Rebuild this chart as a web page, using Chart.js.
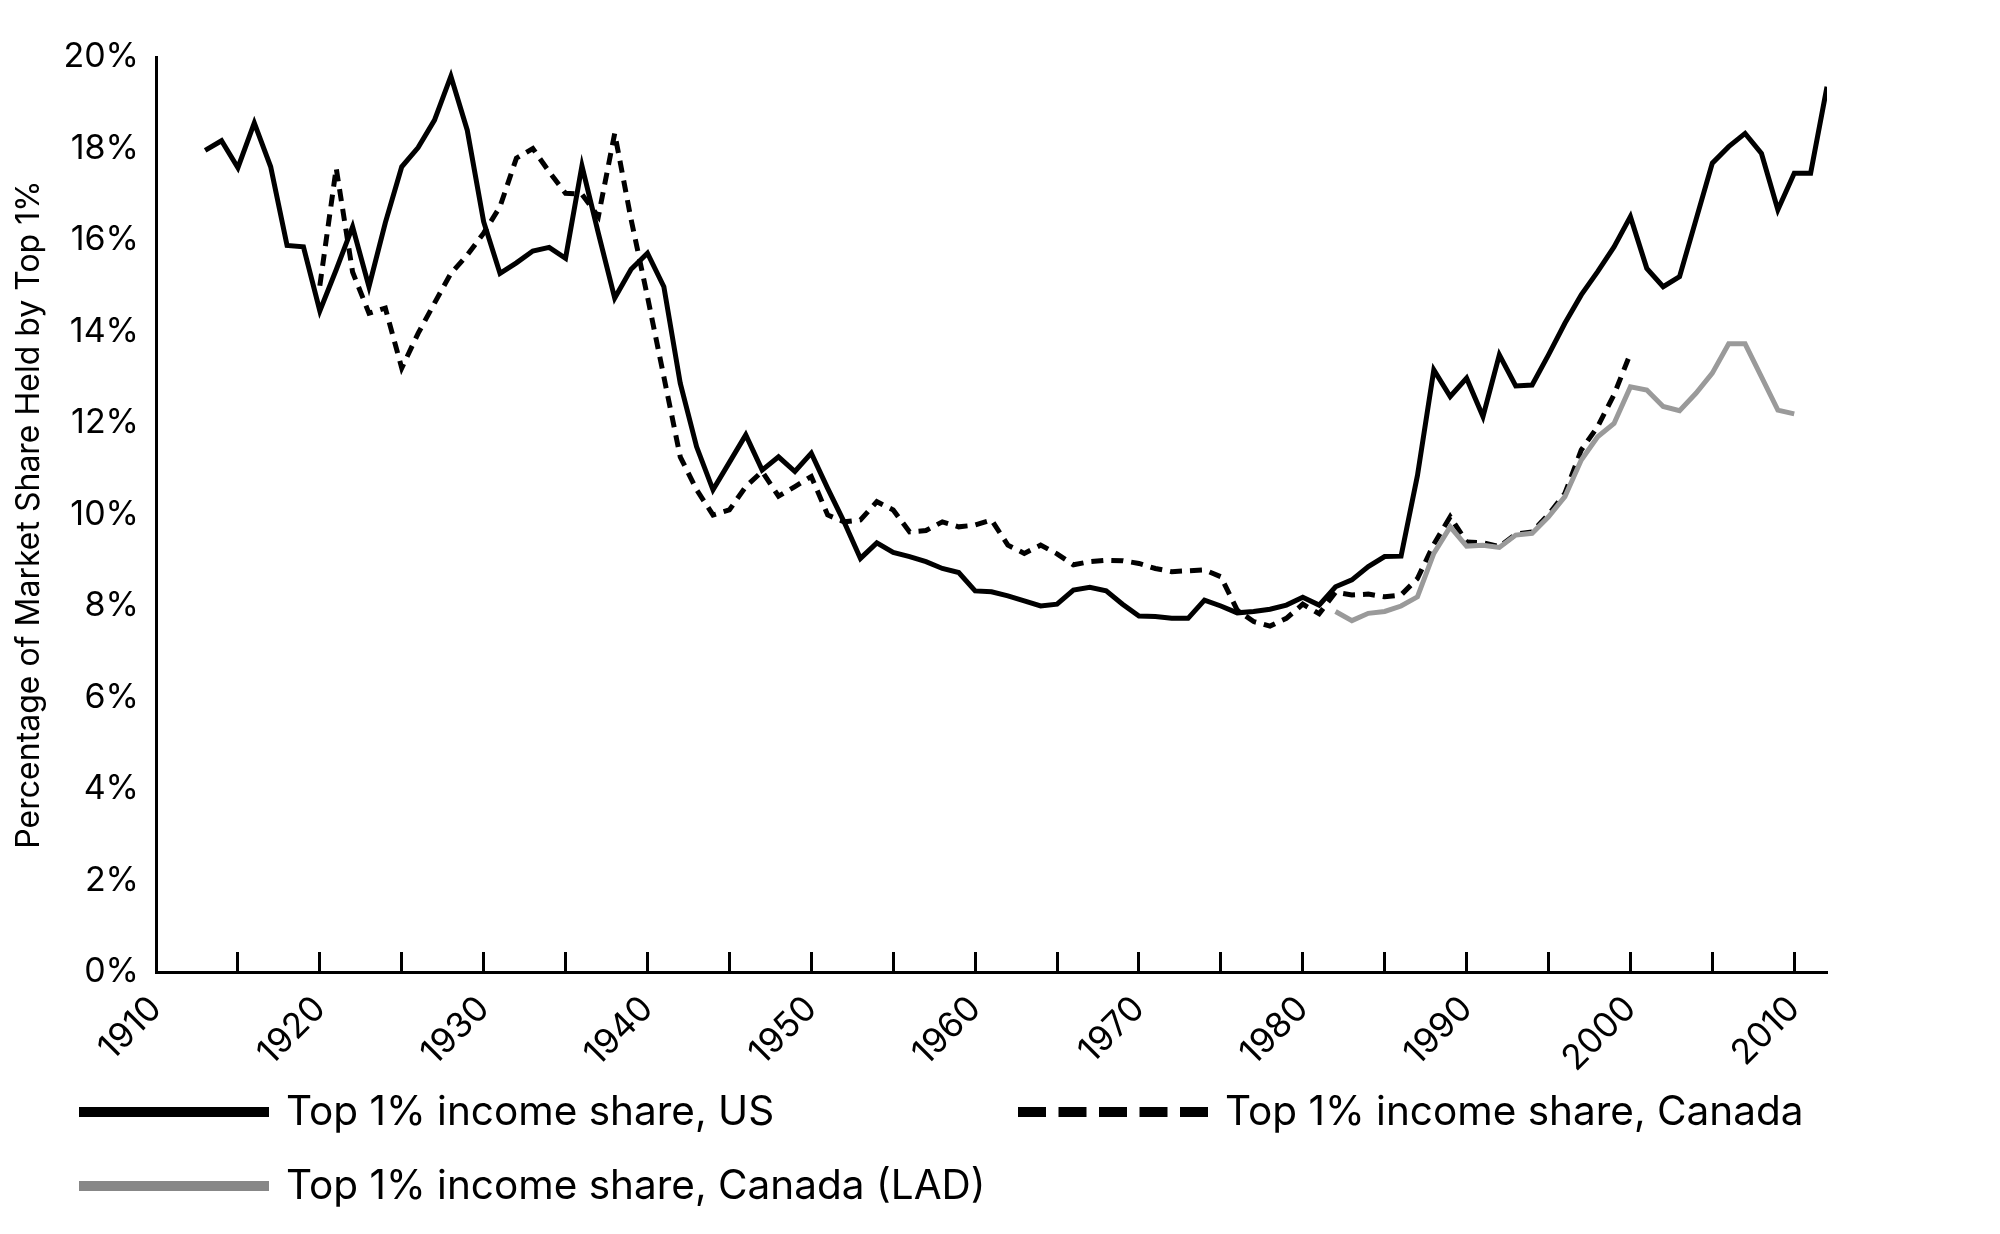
<!DOCTYPE html>
<html>
<head>
<meta charset="utf-8">
<script src="https://cdn.jsdelivr.net/npm/chart.js@4.4.1/dist/chart.umd.min.js"></script>
<style>
  html, body { margin: 0; padding: 0; background: #ffffff; }
  #wrap { width: 2000px; height: 1234px; position: relative; }
  canvas { display: block; }
</style>
</head>
<body>
<div id="wrap"><canvas id="chart" width="2000" height="1234"></canvas></div>
<script>
// ---- Data ----
const years = [
  1913,1914,1915,1916,1917,1918,1919,1920,1921,1922,1923,1924,1925,1926,1927,1928,1929,
  1930,1931,1932,1933,1934,1935,1936,1937,1938,1939,1940,1941,1942,1943,1944,1945,1946,
  1947,1948,1949,1950,1951,1952,1953,1954,1955,1956,1957,1958,1959,1960,1961,1962,1963,
  1964,1965,1966,1967,1968,1969,1970,1971,1972,1973,1974,1975,1976,1977,1978,1979,1980,
  1981,1982,1983,1984,1985,1986,1987,1988,1989,1990,1991,1992,1993,1994,1995,1996,1997,
  1998,1999,2000,2001,2002,2003,2004,2005,2006,2007,2008,2009,2010,2011,2012
];

const usShare = [
  17.96,18.17,17.58,18.56,17.60,15.88,15.85,14.45,15.35,16.29,14.98,16.38,17.60,18.02,18.62,19.58,18.40,
  16.40,15.27,15.50,15.76,15.84,15.60,17.62,16.15,14.73,15.36,15.71,14.98,12.87,11.48,10.54,11.14,11.74,
  10.97,11.26,10.94,11.34,10.57,9.84,9.04,9.38,9.17,9.08,8.97,8.82,8.73,8.33,8.31,8.22,8.11,
  8.00,8.04,8.35,8.41,8.33,8.04,7.78,7.77,7.73,7.73,8.13,8.00,7.85,7.88,7.93,8.02,8.19,
  8.02,8.42,8.57,8.86,9.08,9.09,10.85,13.16,12.58,12.98,12.14,13.49,12.81,12.83,13.49,14.18,14.80,
  15.31,15.85,16.51,15.38,14.98,15.20,16.44,17.68,18.04,18.33,17.89,16.66,17.46,17.46,19.35
];

const canadaShare = [
  null,null,null,null,null,null,null,15.00,17.57,15.30,14.40,14.51,13.20,13.96,14.62,15.27,15.67,
  16.15,16.73,17.79,18.00,17.49,17.02,17.00,16.51,18.33,16.45,14.76,13.01,11.26,10.54,9.99,10.10,10.61,
  10.94,10.40,10.61,10.83,9.99,9.84,9.88,10.28,10.10,9.62,9.65,9.84,9.73,9.77,9.88,9.33,9.15,
  9.33,9.14,8.90,8.97,9.00,8.99,8.93,8.82,8.75,8.77,8.79,8.64,7.91,7.66,7.56,7.73,8.04,
  7.83,8.30,8.24,8.26,8.20,8.24,8.60,9.35,9.95,9.40,9.38,9.30,9.57,9.62,10.00,10.46,11.41,
  11.92,12.62,13.52,null,null,null,null,null,null,null,null,null,null,null,null
];

const canadaLadShare = [
  null,null,null,null,null,null,null,null,null,null,null,null,null,null,null,null,null,
  null,null,null,null,null,null,null,null,null,null,null,null,null,null,null,null,null,
  null,null,null,null,null,null,null,null,null,null,null,null,null,null,null,null,null,
  null,null,null,null,null,null,null,null,null,null,null,null,null,null,null,null,null,
  null,7.88,7.68,7.84,7.88,8.00,8.20,9.15,9.73,9.31,9.33,9.28,9.55,9.59,9.95,10.39,11.19,
  11.70,11.99,12.79,12.72,12.36,12.27,12.65,13.09,13.73,13.73,13.01,12.28,12.20,null,null
];

const seriesLabels = [
  'Top 1% income share, US',
  'Top 1% income share, Canada (LAD)',
  'Top 1% income share, Canada'
];
const yAxisTitle = 'Percentage of Market Share Held by Top 1%';

function toPoints(values) {
  return years.map((yr, i) => ({ x: yr, y: values[i] }));
}

const FONT = 'Inter';

// Legend drawn below the chart (two rows, as in the reference)
const bottomLegend = {
  id: 'bottomLegend',
  afterDraw(chart) {
    const ctx = chart.ctx;
    const items = [
      { ds: 0, x: 79, y: 1112 },
      { ds: 2, x: 1018, y: 1112 },
      { ds: 1, x: 79, y: 1186 }
    ];
    ctx.save();
    items.forEach(it => {
      const ds = chart.data.datasets[it.ds];
      ctx.beginPath();
      ctx.strokeStyle = ds.legendColor || ds.borderColor;
      ctx.lineWidth = 10;
      ctx.lineCap = 'butt';
      ctx.setLineDash(ds.borderDash && ds.borderDash.length ? [28, 12.5] : []);
      ctx.moveTo(it.x, it.y);
      ctx.lineTo(it.x + 190, it.y);
      ctx.stroke();
      ctx.setLineDash([]);
      ctx.fillStyle = '#000000';
      ctx.font = '40.5px ' + FONT;
      ctx.textBaseline = 'middle';
      ctx.textAlign = 'left';
      ctx.fillText(ds.label, it.x + 207, it.y + 1);
    });
    ctx.restore();
  }
};

const chart = new Chart(document.getElementById('chart'), {
  type: 'line',
  data: {
    datasets: [
      {
        label: seriesLabels[0],
        data: toPoints(usShare),
        borderColor: '#000000',
        borderWidth: 5,
        order: 0
      },
      {
        label: seriesLabels[1],
        data: toPoints(canadaLadShare),
        borderColor: '#9a9a9a',
        legendColor: '#878787',
        borderWidth: 5,
        order: 1
      },
      {
        label: seriesLabels[2],
        data: toPoints(canadaShare),
        borderColor: '#000000',
        borderWidth: 5,
        borderDash: [12, 8],
        order: 2
      }
    ]
  },
  options: {
    responsive: false,
    animation: false,
    devicePixelRatio: 1,
    layout: { padding: { top: 57, right: 173, bottom: 0, left: 0 } },
    plugins: { legend: { display: false }, tooltip: { enabled: false } },
    elements: {
      point: { radius: 0, hoverRadius: 0 },
      line: { tension: 0, borderJoinStyle: 'miter', borderCapStyle: 'butt' }
    },
    scales: {
      x: {
        type: 'linear',
        min: 1910,
        max: 2012,
        ticks: {
          stepSize: 5,
          includeBounds: false,
          autoSkip: false,
          minRotation: 45,
          maxRotation: 45,
          padding: 36,
          color: '#000000',
          font: { family: FONT, size: 35 },
          callback: v => (v % 10 === 0 ? String(v) : '')
        },
        grid: {
          drawOnChartArea: false,
          drawTicks: true,
          tickLength: -20,
          tickWidth: 3,
          tickColor: '#000000'
        },
        border: { display: true, color: '#000000', width: 3 },
        afterFit: s => { s.height = 262; }
      },
      y: {
        min: 0,
        max: 20,
        ticks: {
          stepSize: 2,
          padding: 17,
          color: '#000000',
          font: { family: FONT, size: 34 },
          callback: v => v + '%'
        },
        grid: { drawOnChartArea: false, drawTicks: false },
        border: { display: true, color: '#000000', width: 3 },
        title: {
          display: true,
          text: yAxisTitle,
          color: '#000000',
          font: { family: FONT, size: 32 },
          padding: { top: 10, bottom: 0 }
        },
        afterFit: s => { s.width = 156; }
      }
    }
  },
  plugins: [bottomLegend]
});
</script>
</body>
</html>
